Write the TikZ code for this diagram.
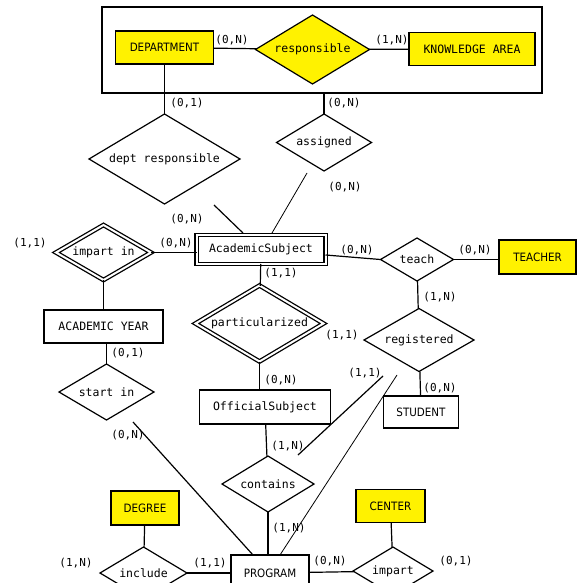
\documentclass[tikz,border=0pt]{standalone}
\usepackage{fontspec}
\setmonofont{DejaVu Sans Mono}
\newfontfamily\condsans{DejaVu Sans}[FakeStretch=0.9]
\usetikzlibrary{shapes.geometric,calc}

\begin{document}
\begin{tikzpicture}[x=1pt, y=-1pt, line width=1.2pt,
  every node/.style={inner sep=0pt, outer sep=0pt},
  ent/.style={draw, rectangle, font=\ttfamily\fontsize{11.5}{13}\selectfont},
  sent/.style={ent, font=\condsans\fontsize{11.5}{13}\selectfont},
  rel/.style={draw, diamond, aspect=2, font=\ttfamily\fontsize{11.5}{13}\selectfont},
  weak/.style={double, double distance=2pt, line width=1.3pt},
  card/.style={font=\ttfamily\fontsize{11}{13}\selectfont},
  thin/.style={line width=0.8pt}]
  \useasboundingbox (0,0) rectangle (577,583);
  \clip (0,0) rectangle (577,583);
  % aggregation box at the top
  \node[draw, minimum width=440, minimum height=86] (agg) at (322,50) {};
  \node[sent, fill=yellow, minimum width=98, minimum height=33] (dept) at (164.5,47.5) {DEPARTMENT};
  \node[rel, fill=yellow, minimum width=114, minimum height=69] (resp) at (312.5,49.5) {responsible};
  \node[ent, fill=yellow, minimum width=126, minimum height=33] (know) at (472,49) {KNOWLEDGE AREA};
  % middle part
  \node[rel, minimum width=151, minimum height=90] (deptresp) at (164.5,159) {dept responsible};
  \node[rel, minimum width=95, minimum height=57] (assigned) at (324,142.5) {assigned};
  \node[ent, weak, minimum width=129, minimum height=29] (acsub) at (261,249.5) {AcademicSubject};
  \node[rel, weak, minimum width=95, minimum height=55] (imparin) at (103.5,252.5) {impart in};
  \node[ent, minimum width=119, minimum height=33] (acyear) at (103.5,326.5) {ACADEMIC YEAR};
  \node[rel, minimum width=95, minimum height=56] (startin) at (106.5,392) {start in};
  \node[rel, weak, minimum width=128, minimum height=76] (partic) at (259.5,323.5) {particularized};
  \node[ent, minimum width=131, minimum height=34] (offsub) at (265,407) {OfficialSubject};
  \node[rel, minimum width=73, minimum height=43] (teach) at (417,259.5) {teach};
  \node[sent, fill=yellow, minimum width=77, minimum height=34] (teacher) at (537.5,257) {TEACHER};
  \node[rel, minimum width=110, minimum height=63] (regist) at (419,340) {registered};
  \node[sent, minimum width=75, minimum height=32] (student) at (421,412) {STUDENT};
  % bottom part
  \node[rel, minimum width=92, minimum height=56] (contains) at (268,484) {contains};
  \node[sent, fill=yellow, minimum width=68, minimum height=34] (degree) at (145,508) {DEGREE};
  \node[rel, minimum width=87, minimum height=52] (include) at (143.5,573) {include};
  \node[sent, minimum width=78, minimum height=36] (program) at (270,573) {PROGRAM};
  \node[sent, fill=yellow, minimum width=69, minimum height=33] (center) at (390.5,506) {CENTER};
  \node[rel, minimum width=80, minimum height=48] (impart) at (393,571) {impart};
  % loose line ends
  \coordinate (drEnd) at (214,205);
  \coordinate (asEnd) at (307,173);
  \coordinate (siEnd) at (133,422);
  \coordinate (rgEndA) at (383,376);
  \coordinate (rgEndB) at (397,375);
  \coordinate (ctEnd) at (298,455);
  % connectors
  \draw (dept) -- (resp);
  \draw (resp) -- (know);
  \draw (dept) -- (deptresp);
  \draw (assigned.north |- agg.south) -- (assigned.north);
  \draw (drEnd) -- ($(acsub.north)+(-18,-2)$);
  \draw[thin] (asEnd) -- ($(acsub.north)+(11,-2)$);
  \draw (imparin.east) -- (imparin.east -| acsub.west);
  \draw ([yshift=-5.5pt]acsub.east) -- (teach.west);
  \draw (teach.east) -- (teach.east -| teacher.west);
  \draw (teach) -- (regist);
  \draw (regist) -- (student);
  \draw (acsub) -- (partic);
  \draw (partic.south) -- (partic.south |- offsub.north);
  \draw (imparin) -- (acyear);
  \draw (startin.north |- acyear.south) -- (startin.north);
  \draw (offsub) -- (contains);
  \draw (rgEndA) -- (ctEnd);
  \draw (contains.south) -- (contains.south |- program.north);
  \draw (siEnd) -- ($(program.north)+(-17,0)$);
  \draw[thin] (rgEndB) -- ($(program.north)+(10,0)$);
  \draw (degree) -- (include);
  \draw (include) -- (program);
  \draw (program) -- (impart);
  \draw (center) -- (impart);
  % cardinalities
  \foreach \n/\px/\py/\t in {
    1/232/40/{(0,N)}, 2/392/40/{(1,N)}, 3/187/103/{(0,1)}, 4/344/103/{(0,N)},
    5/187/219/{(0,N)}, 6/345/187/{(0,N)}, 7/30/243/{(1,1)}, 8/176/243/{(0,N)},
    9/357/250/{(0,N)}, 10/475/250/{(0,N)}, 11/281/273/{(1,1)}, 12/440/297/{(1,N)},
    13/342/335/{(1,1)}, 14/128/353/{(0,1)}, 15/365/373/{(1,1)}, 16/281/380/{(0,N)},
    17/440/388/{(0,N)}, 18/128/435/{(0,N)}, 19/288/446/{(1,N)}, 20/289/528/{(1,N)},
    21/76/563/{(1,N)}, 22/210/563/{(1,1)}, 23/330/561/{(0,N)}, 24/456/561/{(0,1)}}
    \node[card] (card\n) at (\px,\py) {\t};
\end{tikzpicture}
\end{document}
